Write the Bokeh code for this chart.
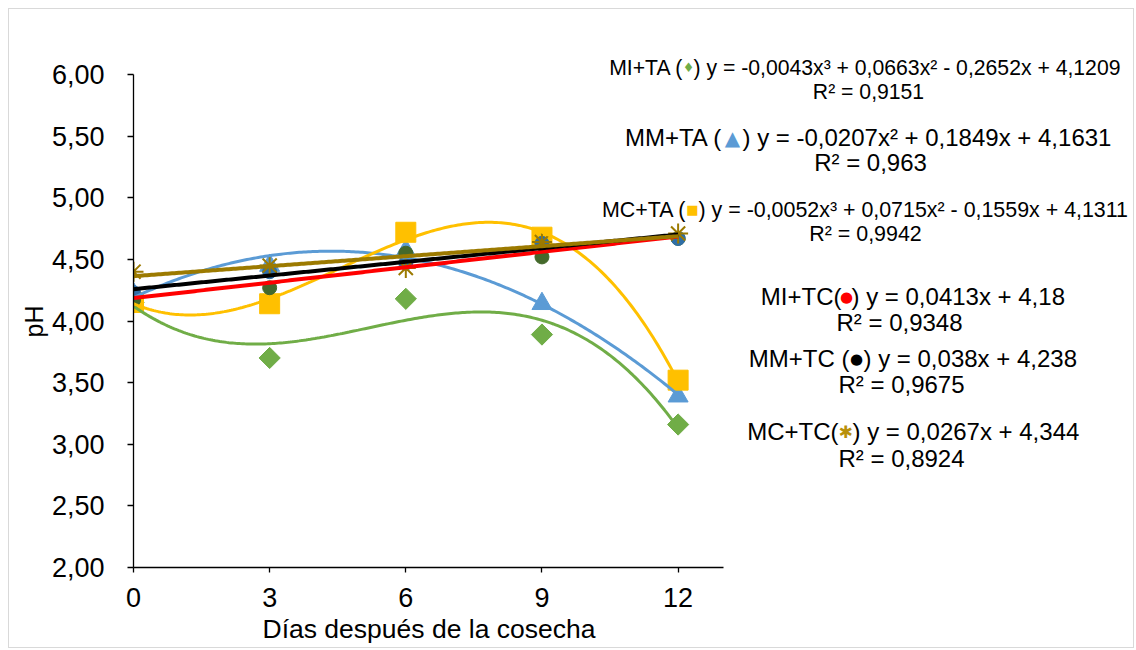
import numpy as np
from bokeh.plotting import figure
from bokeh.models import Label, FixedTicker, Range1d, Title
from bokeh.embed import file_html
from bokeh.resources import INLINE

# ---------------- data ----------------
days = [0, 3, 6, 9, 12]
mi_ta = [4.15, 3.70, 4.18, 3.89, 3.16]
mm_ta = [4.22, 4.45, 4.57, 4.14, 3.39]
mc_ta = [4.15, 4.14, 4.72, 4.68, 3.52]
mi_tc = [4.17, 4.27, 4.55, 4.52, 4.67]
mm_tc = [4.23, 4.40, 4.47, 4.63, 4.67]
mc_tc = [4.40, 4.45, 4.43, 4.64, 4.71]

x_ticks = [0, 3, 6, 9, 12]
y_ticks = [2.0, 2.5, 3.0, 3.5, 4.0, 4.5, 5.0, 5.5, 6.0]
y_tick_labels = ["2,00", "2,50", "3,00", "3,50", "4,00", "4,50", "5,00", "5,50", "6,00"]
x_title = "Días después de la cosecha"
y_title = "pH"

eq_left = ["MI+TA (", "MM+TA (", "MC+TA (", "MI+TC(", "MM+TC (", "MC+TC("]
eq_sym = ["\u2666", "\u25B2", "\u25A0", "\u25CF", "\u25CF", "\u2731"]
eq_right = [") y = -0,0043x\u00B3 + 0,0663x\u00B2 - 0,2652x + 4,1209",
            ") y = -0,0207x\u00B2 + 0,1849x + 4,1631",
            ") y = -0,0052x\u00B3 + 0,0715x\u00B2 - 0,1559x + 4,1311",
            ") y = 0,0413x + 4,18",
            ") y = 0,038x + 4,238",
            ") y = 0,0267x + 4,344"]
r2_text = ["R\u00B2 = 0,9151", "R\u00B2 = 0,963", "R\u00B2 = 0,9942",
           "R\u00B2 = 0,9348", "R\u00B2 = 0,9675", "R\u00B2 = 0,8924"]

# ---------------- styles ----------------
GREEN = "#70AD47"
BLUE = "#5B9BD5"
YELLOW = "#FFC000"
GOLD = "#9C7A00"
DKGREEN = "#44692B"
DKBLUE = "#2F6EA6"
FONT = "Liberation Sans"

# page geometry (absolute page pixels)
ORG = 9                      # figure content origin (8px margin + 1px border)
W, H = 1126, 640
AX_LEFT, AX_RIGHT = 133, 723  # x axis from 0 to 13
AX_TOP, AX_BOTTOM = 74, 567   # y axis from 6 to 2
FR_RIGHT, FR_TOP = 1133, 40   # frame extends over the annotation area
XA0, XA1, YA0, YA1 = 0, 13, 2, 6

ppx = (AX_RIGHT - AX_LEFT) / (XA1 - XA0)
ppy = (AX_BOTTOM - AX_TOP) / (YA1 - YA0)
X1 = XA0 + (FR_RIGHT - AX_LEFT) / ppx
Y1 = YA0 + (AX_BOTTOM - FR_TOP) / ppy

BL = AX_LEFT - ORG
BR = ORG + W - FR_RIGHT
BT = FR_TOP - ORG
BB = ORG + H - AX_BOTTOM

p = figure(width=W, height=H, output_backend="svg", toolbar_location=None,
           x_range=Range1d(XA0, X1), y_range=Range1d(YA0, Y1),
           min_border_left=BL, min_border_right=BR, min_border_top=BT, min_border_bottom=BB)
p.styles = {"border": "1px solid #D9D9D9", "margin-left": "8px", "margin-top": "8px"}
p.outline_line_color = None
p.grid.visible = False
p.background_fill_color = "white"
p.border_fill_color = "white"

for ax in (p.xaxis[0], p.yaxis[0]):
    ax.axis_line_color = "black"
    ax.axis_line_width = 1.3
    ax.major_tick_line_color = "black"
    ax.major_tick_line_width = 1.3
    ax.minor_tick_line_color = None
    ax.major_tick_in = 0
    ax.major_label_text_font = FONT
    ax.major_label_text_color = "black"

p.xaxis.bounds = (XA0, XA1)
p.xaxis.ticker = FixedTicker(ticks=x_ticks)
p.xaxis.major_label_overrides = {t: str(t) for t in x_ticks}
p.xaxis.major_tick_out = 5
p.xaxis.major_label_standoff = 15
p.xaxis.major_label_text_font_size = "27px"

p.yaxis.bounds = (YA0, YA1)
p.yaxis.ticker = FixedTicker(ticks=y_ticks)
p.yaxis.major_label_overrides = dict(zip(y_ticks, y_tick_labels))
p.yaxis.major_tick_out = 6
p.yaxis.major_label_standoff = 23
p.yaxis.major_label_text_font_size = "27px"

# axis titles, positioned along the axis extents (not the wide frame)
X_TITLE_LEFT = 262
Y_TITLE_BOTTOM = 337
p.add_layout(Title(text=x_title, align="left", offset=X_TITLE_LEFT - AX_LEFT,
                   text_font=FONT, text_font_size="26.5px", text_font_style="normal",
                   text_color="black", standoff=4), "below")
p.add_layout(Title(text=y_title, align="left", offset=AX_BOTTOM - Y_TITLE_BOTTOM,
                   vertical_align="middle",
                   text_font=FONT, text_font_size="25px", text_font_style="normal",
                   text_color="black", standoff=0), "left")

# ---------------- markers ----------------
p.scatter(days, mi_ta, marker="square", angle=np.pi / 4, size=15, color=GREEN)
p.scatter(days, mm_ta, marker="triangle", size=20, color=BLUE)
p.scatter(days, mc_ta, marker="square", size=20, color=YELLOW)
p.scatter(days, mi_tc, marker="circle", size=14, color=DKGREEN)
p.scatter(days, mm_tc, marker="circle", size=14, color=DKBLUE)
p.scatter(days, mc_tc, marker="asterisk", size=20, line_color=GOLD, line_width=2)

# ---------------- trendlines (least squares fits of the series) ----------------
xs = np.linspace(0, 12, 241)
fits = [(mi_ta, 3, GREEN, 3), (mm_ta, 2, BLUE, 3), (mc_ta, 3, YELLOW, 3),
        (mi_tc, 1, "#FF0000", 4), (mm_tc, 1, "black", 4), (mc_tc, 1, GOLD, 4)]
for ys, deg, col, lw in fits:
    coef = np.polyfit(days, ys, deg)
    p.line(xs, np.polyval(coef, xs), line_color=col, line_width=lw)


# ---------------- equation annotations ----------------
def dx(px):
    return XA0 + (px - AX_LEFT) / ppx


def dy(py):
    return YA0 + (AX_BOTTOM - py) / ppy


sym_pos = [(688, 67), (732, 137), (692, 209), (846, 296), (856, 358), (845, 431)]
half_gap = [5, 10, 6, 5, 7, 7]
r2_pos = [(868, 91), (870, 162), (865, 233), (899, 322), (901, 384), (901, 458)]
sizes = ["21.2px", "24px", "21.4px", "24px", "24px", "24px"]
sym_colors = [GREEN, BLUE, YELLOW, "#FF0000", "black", "#B8900A"]
sym_sizes = ["13px", "20px", "13px", "15px", "15px", "17px"]

for i in range(6):
    sx, sy = sym_pos[i]
    g = half_gap[i]
    p.add_layout(Label(x=dx(sx - g), y=dy(sy), text=eq_left[i], text_align="right",
                       text_baseline="middle", text_font=FONT,
                       text_font_size=sizes[i], text_color="black"))
    p.add_layout(Label(x=dx(sx), y=dy(sy), text=eq_sym[i], text_align="center",
                       text_baseline="middle", text_font="DejaVu Sans",
                       text_font_size=sym_sizes[i], text_color=sym_colors[i]))
    p.add_layout(Label(x=dx(sx + g), y=dy(sy), text=eq_right[i], text_align="left",
                       text_baseline="middle", text_font=FONT,
                       text_font_size=sizes[i], text_color="black"))
    rx, ry = r2_pos[i]
    p.add_layout(Label(x=dx(rx), y=dy(ry), text=r2_text[i], text_align="center",
                       text_baseline="middle", text_font=FONT,
                       text_font_size=sizes[i], text_color="black"))

open("out.html", "w").write(file_html(p, INLINE))
